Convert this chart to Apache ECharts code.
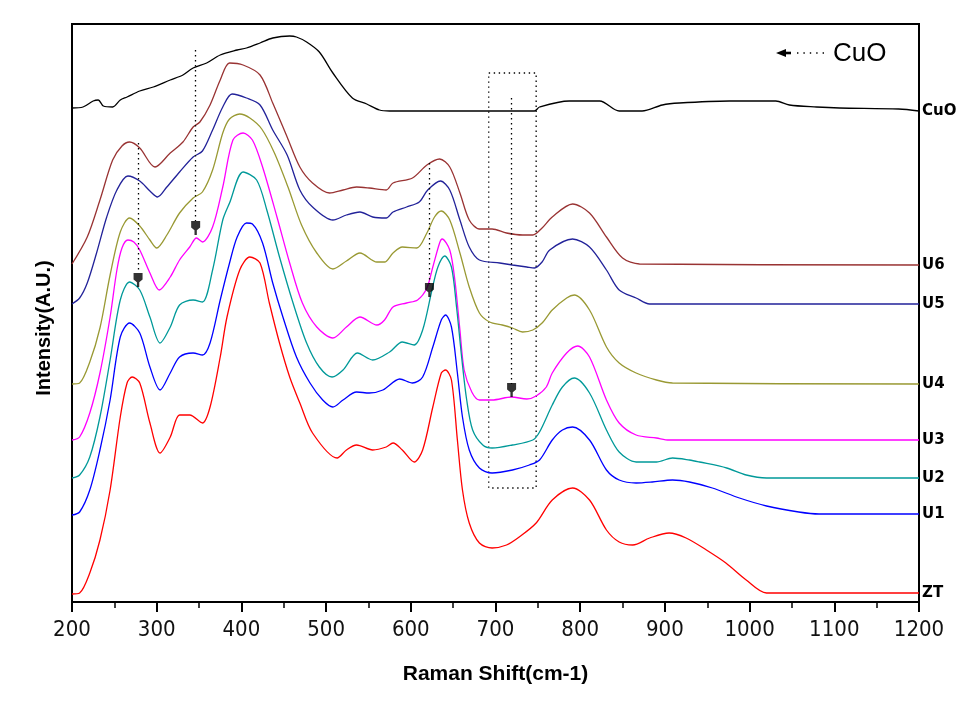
<!DOCTYPE html>
<html><head><meta charset="utf-8">
<script src="https://cdn.jsdelivr.net/npm/echarts@6/dist/echarts.min.js"></script>
<style>html,body{margin:0;padding:0;background:#fff}#c{width:977px;height:701px}</style>
</head><body><div id="c"></div>
<script>
// x axis range / ticks (Raman shift, cm-1)
const xMin = 200, xMax = 1200, xStep = 100;
// arbitrary intensity units (stacked spectra)
const yMin = 0, yMax = 578;

const seriesNames = ['CuO', 'U6', 'U5', 'U4', 'U3', 'U2', 'U1', 'ZT'];
const seriesColors = ['#000000', '#993333', '#222299', '#999933', '#ff00ff', '#009999', '#0000ff', '#ff0000'];

const cuo = [[200,494],[213,495],[225,501],[231,502],[237,496],[248,495],[257,502],[265,505],[280,511],[296,515],[316,522],[331,527],[343,534],[359,539],[375,547],[395,552],[406,554],[422,559],[437,564],[457,566],[465,565],[477,560],[492,550],[508,529],[531,504],[548,498],[563,492],[575,491],[746,491],[752,495],[787,501],[823,501],[846,491],[873,491],[897,497],[917,499],[976,501],[1031,501],[1047,497],[1079,495],[1106,494],[1176,493],[1200,491]];
const u6 = [[200,338],[218,365],[233,402],[248,442],[259,456],[268,460],[280,454],[298,435],[316,449],[331,460],[343,475],[351,480],[363,497],[375,522],[386,539],[402,537],[422,527],[437,499],[454,465],[469,435],[484,419],[504,409],[520,412],[536,415],[551,414],[571,412],[579,419],[602,424],[619,437],[634,443],[646,435],[658,409],[669,382],[681,373],[696,373],[713,369],[732,367],[744,367],[755,374],[767,385],[791,398],[811,389],[831,365],[850,344],[870,338],[1200,337]];
const u5 = [[200,298],[209,304],[218,319],[229,349],[241,385],[253,412],[266,426],[280,421],[292,411],[301,405],[312,415],[327,430],[343,445],[354,451],[366,472],[378,495],[389,508],[406,504],[422,497],[437,472],[454,447],[469,412],[484,395],[508,382],[524,387],[540,390],[555,385],[571,384],[579,390],[595,395],[610,400],[620,412],[635,421],[646,412],[658,382],[669,355],[681,342],[705,339],[720,337],[737,335],[746,334],[755,340],[764,352],[791,363],[811,355],[831,332],[846,312],[866,304],[882,298],[1200,298]];
const u4 = [[200,218],[209,219],[221,240],[233,274],[245,327],[257,370],[268,384],[280,376],[292,362],[300,354],[312,367],[327,389],[343,404],[354,410],[366,432],[378,469],[386,483],[398,488],[410,484],[424,473],[439,449],[455,415],[471,377],[489,349],[508,333],[524,341],[540,349],[560,340],[569,340],[579,349],[590,355],[607,354],[619,369],[628,385],[636,391],[646,382],[658,349],[669,315],[681,289],[693,280],[708,277],[720,274],[732,270],[744,272],[755,279],[767,292],[784,304],[793,307],[811,292],[831,255],[846,239],[866,229],[890,222],[909,219],[1200,218]];
const u3 = [[200,162],[209,165],[221,189],[233,229],[245,285],[253,332],[259,354],[266,362],[273,360],[280,352],[292,329],[303,312],[316,325],[327,342],[339,355],[347,364],[354,360],[366,375],[378,415],[390,462],[402,469],[413,462],[425,435],[442,385],[457,339],[472,299],[489,275],[508,264],[524,275],[540,285],[560,277],[569,282],[579,295],[595,299],[608,302],[619,314],[626,335],[634,359],[637,363],[646,352],[652,322],[658,272],[663,232],[672,210],[681,202],[696,202],[719,205],[737,203],[748,206],[760,215],[767,229],[784,249],[797,256],[811,245],[831,202],[846,179],[866,167],[890,164],[905,162],[1200,162]];
const u2 = [[200,124],[209,127],[221,145],[233,185],[245,242],[257,302],[268,320],[280,312],[292,285],[304,259],[316,275],[327,297],[343,302],[354,300],[366,332],[378,382],[386,399],[402,430],[418,422],[430,392],[445,345],[461,299],[477,259],[492,235],[507,225],[520,232],[537,249],[555,242],[575,250],[590,260],[604,257],[614,272],[625,312],[632,335],[640,346],[648,335],[654,295],[660,245],[666,202],[673,172],[685,157],[696,154],[720,157],[744,162],[752,170],[767,197],[779,215],[793,224],[811,209],[831,172],[846,150],[866,140],[890,140],[909,144],[929,142],[941,140],[973,134],[996,127],[1020,124],[1200,124]];
const u1 = [[200,87],[209,90],[221,112],[233,152],[245,202],[257,265],[268,279],[280,269],[292,235],[304,212],[316,229],[327,245],[343,249],[354,247],[363,259],[375,302],[386,339],[395,365],[406,379],[413,378],[425,359],[437,319],[449,285],[465,245],[481,219],[496,202],[508,195],[520,202],[536,210],[551,209],[567,212],[587,223],[602,219],[614,225],[626,255],[636,282],[641,287],[648,275],[655,229],[661,185],[669,152],[681,134],[696,129],[720,132],[740,137],[752,142],[767,162],[779,172],[791,175],[811,162],[831,132],[846,122],[866,119],[885,120],[909,122],[929,120],[956,114],[988,104],[1020,96],[1058,90],[1082,88],[1200,88]];
const zt = [[200,8],[209,9],[221,29],[233,62],[245,112],[257,185],[265,219],[271,225],[280,219],[292,179],[304,149],[316,165],[327,187],[339,187],[354,179],[363,195],[375,245],[383,285],[398,332],[410,345],[422,339],[433,299],[445,259],[457,225],[469,199],[484,169],[513,144],[524,152],[536,157],[555,152],[571,155],[579,159],[590,152],[604,140],[614,152],[626,195],[636,229],[641,232],[648,222],[655,162],[661,112],[669,79],[681,59],[696,54],[713,57],[728,65],[748,79],[767,102],[791,114],[811,102],[831,72],[846,60],[862,57],[882,64],[905,69],[925,64],[949,52],[972,39],[996,22],[1020,9],[1200,9]];
const seriesData = [cuo, u6, u5, u4, u3, u2, u1, zt];

// CuO annotation markers (arrow heads) and the dotted guide lines
const cuoMarkers = [[278,322],[346,374],[622,312],[719,212]];
const guideLines = [[278,459,329],[346,552,381],[622,439,318],[719,504,218]]; // [x, yTop, yBottom]
const guideBox = [692, 529, 748, 114]; // [x1, yTop, x2, yBottom]

const chart = echarts.init(document.getElementById('c'));
const arrowDown = 'path://M0,0L10,0L10,7L6.3,10L6.3,15L3.7,15L3.7,10L0,7Z';
const dotted = [1.4, 3.6];

const series = seriesNames.map((n, i) => ({
  name: n,
  type: 'line',
  data: seriesData[i],
  smooth: 0.3,
  symbol: 'none',
  silent: true,
  lineStyle: { color: seriesColors[i], width: 1.3 },
  itemStyle: { color: seriesColors[i] },
  endLabel: {
    show: true, formatter: '{a}', color: '#000', fontWeight: 'bold',
    fontSize: 15, fontFamily: 'DejaVu Sans', distance: 3
  },
  z: 3
}));

series[0].markLine = {
  silent: true,
  symbol: ['none', 'none'],
  label: { show: false },
  lineStyle: { type: dotted, color: '#000', width: 1.3 },
  data: guideLines.map(g => [{ coord: [g[0], g[1]] }, { coord: [g[0], g[2]] }])
};
series[0].markArea = {
  silent: true,
  itemStyle: { color: 'rgba(0,0,0,0)', borderColor: '#000', borderWidth: 1.3, borderType: dotted },
  data: [[{ coord: [guideBox[0], guideBox[1]] }, { coord: [guideBox[2], guideBox[3]] }]]
};

series.push({
  name: 'CuO marks',
  type: 'scatter',
  data: cuoMarkers,
  symbol: arrowDown,
  symbolSize: [9, 14],
  silent: true,
  itemStyle: { color: '#000' },
  z: 6
});

chart.setOption({
  animation: false,
  backgroundColor: '#fff',
  grid: { left: 72, right: 58, top: 24, bottom: 99, show: true, borderColor: '#000', borderWidth: 2, backgroundColor: 'transparent' },
  xAxis: {
    type: 'value', min: xMin, max: xMax, interval: xStep,
    axisLine: { show: true, lineStyle: { color: '#000', width: 2 } },
    axisTick: { show: true, length: 10, lineStyle: { color: '#000', width: 2 } },
    minorTick: { show: true, splitNumber: 2, length: 6, lineStyle: { color: '#000', width: 1.5 } },
    splitLine: { show: false },
    axisLabel: { color: '#111', fontSize: 22, formatter: v => String(v), fontFamily: "'Liberation Sans Narrow', 'DejaVu Sans Condensed', 'Arial Narrow', sans-serif", margin: 17 },
    name: 'Raman Shift(cm-1)', nameLocation: 'middle', nameGap: 62,
    nameTextStyle: { color: '#000', fontSize: 21, fontWeight: 'bold', fontFamily: "'Liberation Sans', Arial, sans-serif" }
  },
  yAxis: {
    type: 'value', min: yMin, max: yMax,
    axisLine: { show: true, lineStyle: { color: '#000', width: 2 } },
    axisTick: { show: false }, axisLabel: { show: false }, splitLine: { show: false },
    name: 'Intensity(A.U.)', nameLocation: 'middle', nameGap: 18,
    nameTextStyle: { color: '#000', fontSize: 20, fontWeight: 'bold', fontFamily: "'Liberation Sans', Arial, sans-serif", padding: [0, 30, 0, 0] }
  },
  graphic: [
    { type: 'polygon', shape: { points: [[776, 53], [786, 49], [786, 57]] }, style: { fill: '#000' }, silent: true },
    { type: 'rect', shape: { x: 785, y: 51.7, width: 6, height: 2.6 }, style: { fill: '#000' }, silent: true },
    { type: 'line', shape: { x1: 797, y1: 53, x2: 824, y2: 53 }, style: { stroke: '#000', lineWidth: 1.3, lineDash: [1.4, 5] }, silent: true },
    { type: 'text', x: 833, y: 54, style: { text: 'CuO', fill: '#000', font: "26px 'Liberation Sans', Arial, sans-serif", textVerticalAlign: 'middle', textAlign: 'left' }, silent: true }
  ],
  series: series
});
</script></body></html>
